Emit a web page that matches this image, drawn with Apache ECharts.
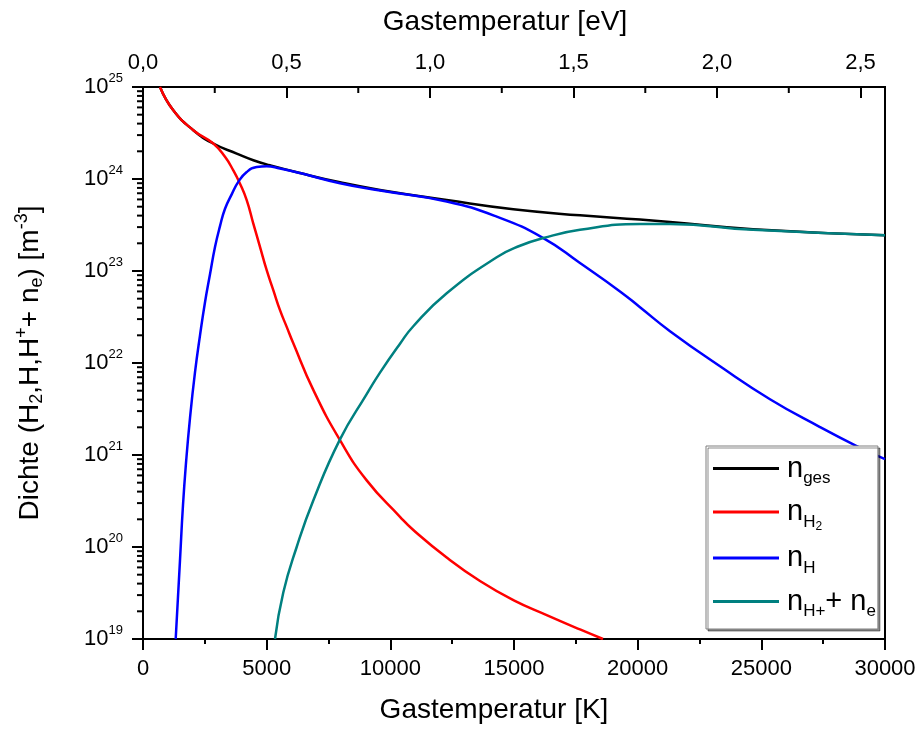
<!DOCTYPE html>
<html><head><meta charset="utf-8">
<script src="https://cdn.jsdelivr.net/npm/echarts@6/dist/echarts.min.js"></script>
<style>html,body{margin:0;padding:0;background:#fff}#c{width:921px;height:729px}</style>
</head><body><div id="c"></div>
<script>
// ---- data ----
const T_ges = [687, 1225, 2034, 2843, 3788, 4460, 5135, 6348, 7965, 9582, 12279, 14972, 17668, 20094, 21307, 24663, 30000];
const N_ges = [1.0e25, 5.58e24, 3.39e24, 2.43e24, 1.89e24, 1.60e24, 1.41e24, 1.16e24, 9.2e23, 7.6e23, 5.9e23, 4.69e23, 4.03e23, 3.62e23, 3.41e23, 2.85e23, 2.45e23];

const T_H2 = [687, 1225, 2034, 2843, 3315, 3651, 3922, 4193, 4460, 4730, 5001, 5268, 5539, 5810, 6077, 6885, 7965, 9044, 10391, 10929, 12279, 13625, 14972, 16322, 17668, 18598];
const N_H2 = [1.0e25, 5.58e24, 3.39e24, 2.43e24, 1.74e24, 1.24e24, 8.9e23, 5.9e23, 3.28e23, 1.83e23, 1.02e23, 6.2e22, 3.75e22, 2.47e22, 1.64e22, 5.1e21, 1.45e21, 5.3e20, 2.13e20, 1.53e20, 7.68e19, 4.27e19, 2.65e19, 1.82e19, 1.27e19, 1.0e19];

const T_H = [1322, 1496, 1617, 1739, 1900, 2102, 2305, 2507, 2709, 2911, 3113, 3316, 3586, 3853, 4193, 4597, 5001, 5539, 6348, 7965, 9582, 12279, 14301, 16185, 17668, 19286, 20094, 21307, 23329, 25350, 27372, 28856, 30000];
const N_H = [1.0e19, 7.2e19, 2.86e20, 8.2e20, 2.52e21, 7.9e21, 2.0e22, 4.58e22, 9.2e22, 1.82e23, 3.07e23, 4.75e23, 6.8e23, 9.3e23, 1.19e24, 1.35e24, 1.38e24, 1.30e24, 1.16e24, 9.0e23, 7.5e23, 5.7e23, 3.9e23, 2.28e23, 1.22e23, 6.0e22, 4.04e22, 2.22e22, 9.2e21, 4.04e21, 2.01e21, 1.25e21, 9.0e20];

const T_HP = [5337, 5672, 6214, 6885, 7965, 9044, 9582, 10391, 10929, 12279, 14301, 15243, 16185, 17668, 20094, 21307, 24663, 30000];
const N_HP = [1.0e19, 3.2e19, 1.0e20, 3.2e20, 1.48e21, 4.59e21, 7.86e21, 1.62e22, 2.51e22, 5.73e22, 1.41e23, 1.88e23, 2.28e23, 2.8e23, 3.24e23, 3.24e23, 2.8e23, 2.45e23];

const SERIES_NAMES = ['n_ges', 'n_H2', 'n_H', 'n_H+ + n_e'];
const SERIES_COLORS = ['#000000', '#ff0000', '#0000ff', '#008080'];

// axes
const T_MIN = 0, T_MAX = 30000, T_STEP = 5000;
const K_PER_EV = 11604.52;
const EV_STEP = 0.5;
const EV_MINOR = [0.25, 0.75, 1.25, 1.75, 2.25];
const Y_MIN = 1e19, Y_MAX = 1e25;
const Y_MANTISSAS = [2, 3, 4, 5, 6, 7, 8, 9];
const Y_DECADES = [19, 20, 21, 22, 23, 24];

const FONT = '"Liberation Sans", Arial, sans-serif';
const pairs = (t, n) => t.map((x, i) => [x, n[i]]);
const yMinor = [];
Y_DECADES.forEach(d => Y_MANTISSAS.forEach(m => yMinor.push([0, m * Math.pow(10, d)])));

const LEGEND_TEXT = {
  'n_ges': '{n|n}{s|ges}',
  'n_H2': '{n|n}{s|H}{ss|2}',
  'n_H': '{n|n}{s|H}',
  'n_H+ + n_e': '{n|n}{s|H+}{m|+ n}{s|e}'
};

const chart = echarts.init(document.getElementById('c'), null, {renderer: 'canvas'});
const blackLine = {color: '#000', width: 2};

const option = {
  animation: false,
  backgroundColor: '#fff',
  grid: {left: 143, right: 36, top: 87, bottom: 90, show: true, borderColor: '#000', borderWidth: 2,
         backgroundColor: 'transparent', containLabel: false, outerBoundsMode: 'none'},
  xAxis: [
    {
      type: 'value', position: 'bottom', min: T_MIN, max: T_MAX, interval: T_STEP,
      name: 'Gastemperatur [K]', nameLocation: 'middle', nameGap: 57,
      nameTextStyle: {fontFamily: FONT, fontSize: 28, color: '#000', padding: [0, 40, 0, 0]},
      axisLine: {show: true, lineStyle: blackLine},
      axisTick: {show: true, length: 11, lineStyle: blackLine},
      minorTick: {show: true, splitNumber: 2, length: 5, lineStyle: blackLine},
      axisLabel: {fontFamily: FONT, fontSize: 22, color: '#000', margin: 19, formatter: v => String(v)},
      splitLine: {show: false}, minorSplitLine: {show: false}
    },
    {
      type: 'value', position: 'top', min: 0, max: T_MAX / K_PER_EV, interval: EV_STEP,
      name: 'Gastemperatur [eV]', nameLocation: 'middle', nameGap: 51,
      nameTextStyle: {fontFamily: FONT, fontSize: 28, color: '#000', padding: [0, 18, 0, 0]},
      axisLine: {show: true, lineStyle: blackLine},
      axisTick: {show: true, inside: true, length: 11, lineStyle: blackLine},
      axisLabel: {fontFamily: FONT, fontSize: 22, color: '#000', margin: 13, showMaxLabel: false,
                  formatter: v => v.toFixed(1).replace('.', ',')},
      splitLine: {show: false}
    }
  ],
  yAxis: {
    type: 'log', logBase: 10, min: Y_MIN, max: Y_MAX,
    name: '{b|Dichte (H}{sub|2}{b|,H,H}{sup|+}{b|+ n}{sub|e}{b|) [m}{sup|-3}{b|]}',
    nameLocation: 'middle', nameGap: 96, nameRotate: 90,
    nameTextStyle: {
      fontFamily: FONT, fontSize: 28, color: '#000',
      rich: {
        b: {fontFamily: FONT, fontSize: 28, color: '#000'},
        sub: {fontFamily: FONT, fontSize: 18, color: '#000', padding: [14, 0, 0, 0]},
        sup: {fontFamily: FONT, fontSize: 18, color: '#000', padding: [0, 0, 16, 0]}
      }
    },
    axisLine: {show: true, lineStyle: blackLine},
    axisTick: {show: true, length: 11, lineStyle: blackLine},
    axisLabel: {
      margin: 20, color: '#000', fontFamily: FONT,
      formatter: v => '{b|10}{s|' + Math.round(Math.log10(v)) + '}',
      rich: {
        b: {fontFamily: FONT, fontSize: 22, color: '#000'},
        s: {fontFamily: FONT, fontSize: 13, color: '#000', padding: [0, 0, 17, 0]}
      }
    },
    splitLine: {show: false}
  },
  legend: {
    orient: 'vertical', left: 706, top: 446,
    padding: [8, 2, 9, 7], itemGap: 10.5, itemWidth: 66, itemHeight: 3,
    icon: 'rect',
    backgroundColor: '#fff', borderColor: '#7f7f7f', borderWidth: 1,
    shadowColor: 'rgba(0,0,0,0.45)', shadowOffsetX: 2, shadowOffsetY: 2, shadowBlur: 0,
    data: SERIES_NAMES,
    formatter: name => LEGEND_TEXT[name],
    textStyle: {
      fontFamily: FONT, fontSize: 28, color: '#000',
      rich: {
        n: {fontFamily: FONT, fontSize: 29, color: '#000', padding: [0, 0, 0, 3]},
        m: {fontFamily: FONT, fontSize: 29, color: '#000'},
        s: {fontFamily: FONT, fontSize: 17, color: '#000', padding: [20, 0, 0, 0]},
        ss: {fontFamily: FONT, fontSize: 12, color: '#000', padding: [30, 0, 0, 0]}
      }
    }
  },
  series: [
    ...[ [T_ges, N_ges], [T_H2, N_H2], [T_H, N_H], [T_HP, N_HP] ].map((d, i) => ({
      name: SERIES_NAMES[i], type: 'line', xAxisIndex: 0, yAxisIndex: 0,
      data: pairs(d[0], d[1]), symbol: 'none', showSymbol: false,
      smooth: 0.5, clip: true,
      lineStyle: {color: SERIES_COLORS[i], width: 2.5},
      itemStyle: {color: SERIES_COLORS[i]}, z: 2 + i * 0.01
    })),
    {
      type: 'custom', name: 'yMinor', xAxisIndex: 0, yAxisIndex: 0, silent: true, clip: false,
      data: yMinor, z: 5,
      renderItem: (params, api) => {
        const p = api.coord([api.value(0), api.value(1)]);
        return {type: 'line', shape: {x1: p[0] - 6, y1: p[1], x2: p[0], y2: p[1]},
                style: {stroke: '#000', lineWidth: 2}};
      }
    },
    {
      type: 'custom', name: 'evMinor', xAxisIndex: 1, yAxisIndex: 0, silent: true, clip: false,
      data: EV_MINOR.map(v => [v, Y_MAX]), z: 5,
      renderItem: (params, api) => {
        const p = api.coord([api.value(0), api.value(1)]);
        return {type: 'line', shape: {x1: p[0], y1: p[1], x2: p[0], y2: p[1] + 6},
                style: {stroke: '#000', lineWidth: 2}};
      }
    }
  ]
};
chart.setOption(option);
</script></body></html>
